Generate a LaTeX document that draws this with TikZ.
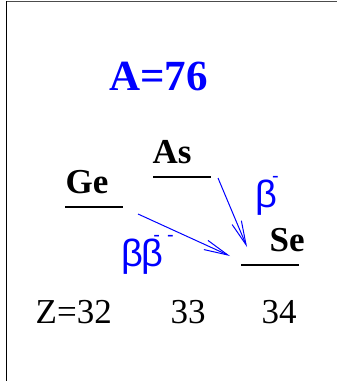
\documentclass[tikz,border=0pt]{standalone}
\usepackage{fontspec}
\setmainfont{Liberation Serif}
\newfontfamily\betafont{Liberation Sans}
\usetikzlibrary{arrows.meta}
\newcommand\mydash{\raisebox{25pt}{\fontsize{20}{20}\selectfont -}}
\tikzset{
  lbl/.style={inner sep=0pt, anchor=base west, font=\fontsize{35}{35}\selectfont\bfseries},
  num/.style={inner sep=0pt, anchor=base west, font=\fontsize{35}{35}\selectfont},
  bet/.style={inner sep=0pt, anchor=base west, text=blue, font=\fontsize{38}{38}\selectfont\betafont},
  level/.style={line width=1.3pt, black},
  decay/.style={line width=1pt, blue, -{Straight Barb[length=24pt,width=10pt,line width=1pt]}}
}
\begin{document}
\begin{tikzpicture}[x=1pt,y=-1pt]
\useasboundingbox (0,0) rectangle (337,381);
% frame
\draw[black!70, line width=1pt] (6.5,1.5) -- (337,1.5);
\draw[black, line width=1.4pt] (6.5,1) -- (6.5,381);
% title
\node[inner sep=0pt, anchor=base west, text=blue, font=\fontsize{43}{43}\selectfont\bfseries] (title) at (109,90) {A=76};
% nuclide labels
\node[lbl] (ge) at (65.5,193) {Ge};
\node[lbl] (as) at (152.5,163) {As};
\node[lbl] (se) at (269.5,251) {Se};
% levels
\coordinate (geL) at (65,207); \coordinate (geR) at (123,207);
\coordinate (asL) at (153,177); \coordinate (asR) at (211,177);
\coordinate (seL) at (241,265); \coordinate (seR) at (299,265);
\draw[level] (geL) -- (geR);
\draw[level] (asL) -- (asR);
\draw[level] (seL) -- (seR);
% decays
\coordinate (asOut) at (218,178);
\coordinate (seIn1) at (247,247);
\coordinate (geOut) at (138,214);
\coordinate (seIn2) at (230,256);
\draw[decay] (asOut) -- (seIn1);
\draw[decay] (geOut) -- (seIn2);
\node[bet] (b1) at (255,207) {β\kern-5pt\mydash};
\node[bet] (b2) at (121,266) {β\kern-1.5ptβ\kern-10pt\mydash\kern7pt\mydash};
% Z axis
\node[num] (z32) at (35.5,323) {Z=32};
\node[num] (z33) at (170.5,323) {33};
\node[num] (z34) at (261.5,323) {34};
\end{tikzpicture}
\end{document}
